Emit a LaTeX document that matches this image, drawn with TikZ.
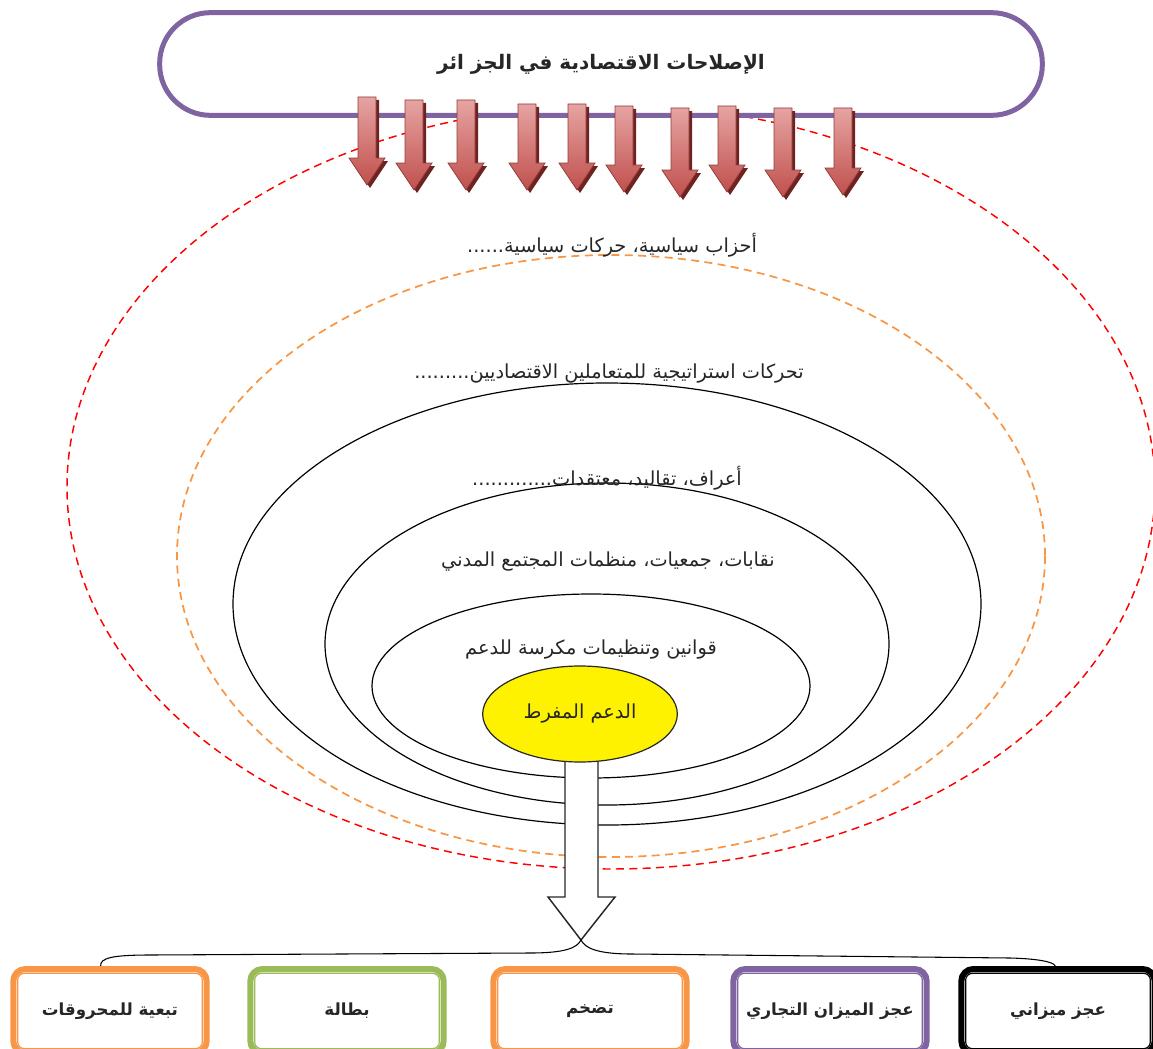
\documentclass[tikz,border=0pt]{standalone}
\usepackage{fontspec}
\usepackage{xcolor}
\usepackage{tikz}
\usetikzlibrary{shapes.geometric,positioning}
\TeXXeTstate=1
\newfontfamily\arabicfont[Script=Arabic]{DejaVu Sans}
\definecolor{violetC}{HTML}{8064A2}
\definecolor{orangeC}{HTML}{F79646}
\definecolor{vertC}{HTML}{9BBB59}
\definecolor{rougeC}{HTML}{C0504D}
\definecolor{rougeClair}{HTML}{E6A4A2}
\definecolor{rougeOmbre}{HTML}{6E2321}

\tikzset{
  texte/.style={font=\arabicfont\fontsize{14.5}{16}\selectfont, inner sep=1pt, text=black!85},
  anneau/.style={draw=black, line width=0.9pt},
  effet/.style={draw=#1, line width=4.5pt, rounded corners=9pt, fill=white,
    minimum width=145pt, minimum height=63pt,
    font=\arabicfont\bfseries\fontsize{12.5}{14}\selectfont, text=black!85}
}

\begin{document}
\begin{tikzpicture}[x=0.75pt,y=-0.75pt]
\useasboundingbox (0,0) rectangle (1153,1049);
\clip (0,0) rectangle (1153,1049);

% cercles d'influence
\draw[red, line width=1.1pt, dash pattern=on 6pt off 4pt] (611,487) ellipse [x radius=544, y radius=382];
\draw[orangeC, line width=1.3pt, dash pattern=on 6pt off 4pt] (611,556) ellipse [x radius=434, y radius=301];
\draw[anneau] (607,604) ellipse [x radius=374, y radius=221];
\draw[anneau] (607,644) ellipse [x radius=282, y radius=161];
\draw[anneau] (591,686) ellipse [x radius=219, y radius=92];

% reformes
\node[draw=violetC, line width=3.75pt, rounded corners=38pt, fill=white,
  minimum width=662pt, minimum height=77pt, text=black!85,
  font=\arabicfont\bfseries\fontsize{15}{17}\selectfont] (reformes) at (601,64)
  {\beginR الإصلاحات الاقتصادية في الجز ائر\endR};

% fleches rouges
\foreach \ax/\ah/\ap in {367/97/185, 414/100/190, 466/100/190, 527/104/190, 577/104/190,
                         624/106/192, 680/108/197, 727/106/192, 783/108/197, 843/108/195} {
  \fill[rougeOmbre, shift={(3,3)}] (\ax-9,\ah) -- (\ax+9,\ah) -- (\ax+9,\ap-27) -- (\ax+18,\ap-27)
    -- (\ax,\ap) -- (\ax-18,\ap-27) -- (\ax-9,\ap-27) -- cycle;
  \shadedraw[top color=rougeClair, bottom color=rougeC, draw=rougeC!75!black, line width=0.6pt]
    (\ax-9,\ah) -- (\ax+9,\ah) -- (\ax+9,\ap-27) -- (\ax+18,\ap-27)
    -- (\ax,\ap) -- (\ax-18,\ap-27) -- (\ax-9,\ap-27) -- cycle;
}

% textes
\node[texte] (partis) at (612,245) {\beginR أحزاب سياسية، حركات سياسية\kern0pt......\endR};
\node[texte] (acteurs) at (609,374) {\beginR تحركات استراتيجية للمتعاملين الاقتصاديين\kern0pt.........\endR};
\node[texte] (coutumes) at (607,478) {\beginR أعراف، تقاليد، معتقدات\kern0pt.............\endR};
\node[texte] (societe) at (608,562) {\beginR نقابات، جمعيات، منظمات المجتمع المدني\endR};
\node[texte] (lois) at (591,650) {\beginR قوانين وتنظيمات مكرسة للدعم\endR};

% grande fleche
\coordinate (pointe) at (581,940);
\filldraw[fill=white, draw=black!85, line width=1.1pt] (565,755) -- (565,897) -- (548,897)
  -- (pointe) -- (615,897) -- (598,897) -- (598,755);

\node[ellipse, draw=black!85, line width=0.9pt, fill=yellow, texte,
  minimum width=146pt, minimum height=72pt] (dafaa) at (580,714) {\beginR الدعم المفرط\endR};

% consequences
\foreach \bx/\bcol/\btxt [count=\i] in {110/orangeC/تبعية للمحروقات, 347/vertC/بطالة,
    590/orangeC/تضخم, 830/violetC/عجز الميزان التجاري, 1058/black/عجز ميزاني} {
  \node[effet=\bcol] (b\i) at (\bx,1011) {\beginR \btxt\endR};
  \draw[\bcol, line width=0.9pt, rounded corners=5pt] ([shift={(5.5pt,-5.5pt)}]b\i.north west)
    rectangle ([shift={(-5.5pt,5.5pt)}]b\i.south east);
}

\draw[line width=0.8pt] ([xshift=-7pt]b1.north) .. controls (100,958) and (112,955) .. (150,955)
  -- (530,953) .. controls (565,953) and (577,948) .. (pointe)
  .. controls (585,948) and (597,954) .. (632,954) -- (1010,958)
  .. controls (1048,959) and (1055,964) .. ([xshift=-2pt]b5.north);
\end{tikzpicture}
\end{document}
